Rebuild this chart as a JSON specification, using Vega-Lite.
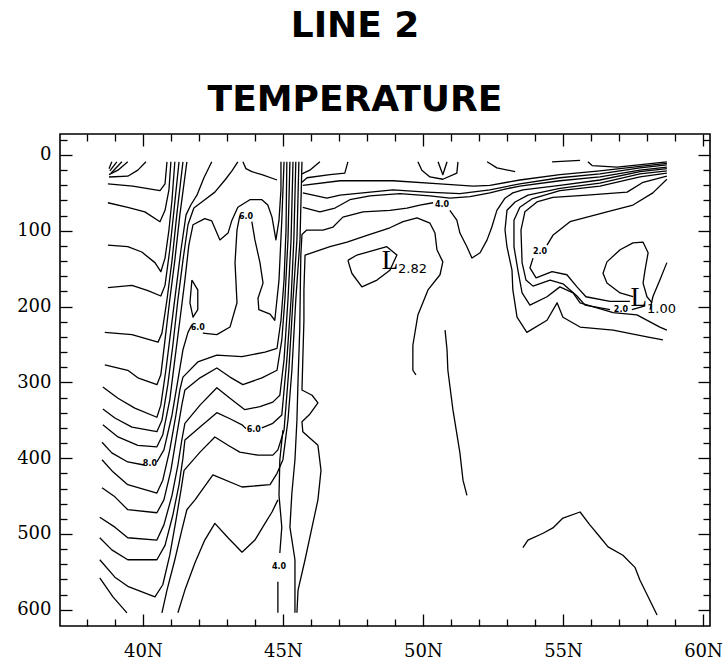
{
"$schema":"https://vega.github.io/schema/vega-lite/v6.json",
"width":650,"height":492,
"autosize":{"type":"none"},
"padding":{"left":60,"top":134,"right":17,"bottom":37},
"background":"white",
"title":{"text":["LINE 2","TEMPERATURE"],"font":"DejaVu Sans","fontWeight":"bold","fontSize":36,"lineHeight":74,"anchor":"middle","frame":"group","dx":-30,"dy":35,"offset":13,"color":"black","baseline":"bottom"},
"config":{"view":{"stroke":"black","strokeWidth":1.6},"axis":{"domain":false,"grid":false,"labelFont":"DejaVu Serif","labelFontSize":18,"labelColor":"black","tickColor":"black","tickWidth":1.3,"title":null,"labelFlush":false}},
"datasets":{
"lines":[
{"id":"C1a","lat":38.89,"depth":9},{"id":"C1a","lat":38.79,"depth":18},
{"id":"C1b","lat":39.07,"depth":9},{"id":"C1b","lat":38.82,"depth":21},
{"id":"C1c","lat":39.25,"depth":9},{"id":"C1c","lat":38.86,"depth":24},
{"id":"C1d","lat":39.46,"depth":9},{"id":"C1d","lat":39.11,"depth":20},{"id":"C1d","lat":38.79,"depth":26},
{"id":"C2","lat":38.79,"depth":29},{"id":"C2","lat":39.46,"depth":28},{"id":"C2","lat":39.82,"depth":20},{"id":"C2","lat":40.11,"depth":9},
{"id":"V1","lat":38.75,"depth":38},{"id":"V1","lat":39.64,"depth":41},{"id":"V1","lat":40.61,"depth":47},{"id":"V1","lat":40.79,"depth":38},{"id":"V1","lat":40.86,"depth":9},
{"id":"V2","lat":38.75,"depth":63},{"id":"V2","lat":39.46,"depth":69},{"id":"V2","lat":40.07,"depth":75},{"id":"V2","lat":40.61,"depth":88},{"id":"V2","lat":40.79,"depth":73},{"id":"V2","lat":40.93,"depth":46},{"id":"V2","lat":41.0,"depth":9},
{"id":"V3","lat":38.75,"depth":119},{"id":"V3","lat":39.46,"depth":121},{"id":"V3","lat":39.96,"depth":128},{"id":"V3","lat":40.43,"depth":142},{"id":"V3","lat":40.64,"depth":154},{"id":"V3","lat":40.79,"depth":136},{"id":"V3","lat":40.93,"depth":99},{"id":"V3","lat":41.04,"depth":59},{"id":"V3","lat":41.14,"depth":9},
{"id":"V4","lat":38.75,"depth":175},{"id":"V4","lat":39.61,"depth":172},{"id":"V4","lat":40.18,"depth":179},{"id":"V4","lat":40.64,"depth":186},{"id":"V4","lat":40.79,"depth":172},{"id":"V4","lat":40.96,"depth":125},{"id":"V4","lat":41.11,"depth":73},{"id":"V4","lat":41.29,"depth":9},
{"id":"V5","lat":38.64,"depth":234},{"id":"V5","lat":39.61,"depth":237},{"id":"V5","lat":40.54,"depth":247},{"id":"V5","lat":40.68,"depth":235},{"id":"V5","lat":40.86,"depth":191},{"id":"V5","lat":41.04,"depth":139},{"id":"V5","lat":41.21,"depth":79},{"id":"V5","lat":41.43,"depth":9},
{"id":"V6","lat":38.64,"depth":277},{"id":"V6","lat":39.46,"depth":284},{"id":"V6","lat":39.82,"depth":294},{"id":"V6","lat":40.5,"depth":303},{"id":"V6","lat":40.64,"depth":290},{"id":"V6","lat":40.79,"depth":244},{"id":"V6","lat":40.96,"depth":191},{"id":"V6","lat":41.14,"depth":139},{"id":"V6","lat":41.32,"depth":79},{"id":"V6","lat":41.57,"depth":9},
{"id":"V7","lat":38.57,"depth":306},{"id":"V7","lat":39.11,"depth":321},{"id":"V7","lat":39.71,"depth":334},{"id":"V7","lat":40.5,"depth":346},{"id":"V7","lat":40.64,"depth":330},{"id":"V7","lat":40.82,"depth":284},{"id":"V7","lat":41.0,"depth":231},{"id":"V7","lat":41.18,"depth":178},{"id":"V7","lat":41.36,"depth":125},{"id":"V7","lat":41.54,"depth":79},{"id":"V7","lat":41.71,"depth":66},{"id":"V7","lat":41.93,"depth":53},{"id":"V7","lat":42.18,"depth":30},{"id":"V7","lat":42.46,"depth":9},
{"id":"V8","lat":38.57,"depth":335},{"id":"V8","lat":39.0,"depth":347},{"id":"V8","lat":39.61,"depth":359},{"id":"V8","lat":40.5,"depth":365},{"id":"V8","lat":40.68,"depth":350},{"id":"V8","lat":40.89,"depth":303},{"id":"V8","lat":41.07,"depth":251},{"id":"V8","lat":41.25,"depth":191},{"id":"V8","lat":41.43,"depth":139},{"id":"V8","lat":41.61,"depth":92},{"id":"V8","lat":41.82,"depth":70},{"id":"V8","lat":42.21,"depth":59},{"id":"V8","lat":42.57,"depth":49},{"id":"V8","lat":42.93,"depth":33},{"id":"V8","lat":43.18,"depth":21},{"id":"V8","lat":43.39,"depth":9},
{"id":"V9","lat":38.57,"depth":356},{"id":"V9","lat":39.11,"depth":372},{"id":"V9","lat":39.82,"depth":383},{"id":"V9","lat":40.5,"depth":385},{"id":"V9","lat":40.71,"depth":369},{"id":"V9","lat":40.96,"depth":323},{"id":"V9","lat":41.14,"depth":270},{"id":"V9","lat":41.32,"depth":218},{"id":"V9","lat":41.5,"depth":165},{"id":"V9","lat":41.64,"depth":119},{"id":"V9","lat":41.79,"depth":92},{"id":"V9","lat":42.21,"depth":84},{"id":"V9","lat":42.46,"depth":87},{"id":"V9","lat":42.75,"depth":112},{"id":"V9","lat":43.04,"depth":103},{"id":"V9","lat":43.18,"depth":86},{"id":"V9","lat":43.39,"depth":69},{"id":"V9","lat":43.82,"depth":59},{"id":"V9","lat":44.25,"depth":59},{"id":"V9","lat":44.46,"depth":66},{"id":"V9","lat":44.61,"depth":82},{"id":"V9","lat":44.75,"depth":112},{"id":"V9","lat":44.86,"depth":86},{"id":"V9","lat":44.93,"depth":46},{"id":"V9","lat":44.93,"depth":9},
{"id":"V10a","lat":38.54,"depth":379},{"id":"V10a","lat":38.89,"depth":393},{"id":"V10a","lat":39.46,"depth":405},{"id":"V10a","lat":40.04,"depth":409},
{"id":"V10b","lat":40.5,"depth":405},{"id":"V10b","lat":40.75,"depth":389},{"id":"V10b","lat":41.04,"depth":343},{"id":"V10b","lat":41.25,"depth":297},{"id":"V10b","lat":41.43,"depth":257},{"id":"V10b","lat":41.61,"depth":234},{"id":"V10b","lat":41.75,"depth":224},
{"id":"V10c","lat":42.14,"depth":235},{"id":"V10c","lat":42.64,"depth":237},{"id":"V10c","lat":43.11,"depth":227},{"id":"V10c","lat":43.36,"depth":195},{"id":"V10c","lat":43.29,"depth":142},{"id":"V10c","lat":43.36,"depth":99},{"id":"V10c","lat":43.46,"depth":80},
{"id":"V10d","lat":43.89,"depth":88},{"id":"V10d","lat":44.0,"depth":112},{"id":"V10d","lat":44.18,"depth":142},{"id":"V10d","lat":44.29,"depth":169},{"id":"V10d","lat":44.11,"depth":189},{"id":"V10d","lat":44.14,"depth":204},{"id":"V10d","lat":44.54,"depth":210},{"id":"V10d","lat":44.71,"depth":218},{"id":"V10d","lat":44.86,"depth":165},{"id":"V10d","lat":44.96,"depth":86},{"id":"V10d","lat":45.04,"depth":9},
{"id":"V11","lat":38.54,"depth":402},{"id":"V11","lat":38.93,"depth":418},{"id":"V11","lat":39.46,"depth":435},{"id":"V11","lat":40.5,"depth":446},{"id":"V11","lat":40.71,"depth":429},{"id":"V11","lat":40.96,"depth":389},{"id":"V11","lat":41.18,"depth":343},{"id":"V11","lat":41.32,"depth":310},{"id":"V11","lat":41.43,"depth":293},{"id":"V11","lat":41.96,"depth":273},{"id":"V11","lat":42.64,"depth":264},{"id":"V11","lat":43.54,"depth":266},{"id":"V11","lat":44.36,"depth":260},{"id":"V11","lat":44.79,"depth":255},{"id":"V11","lat":44.93,"depth":218},{"id":"V11","lat":45.04,"depth":165},{"id":"V11","lat":45.11,"depth":99},{"id":"V11","lat":45.14,"depth":9},
{"id":"V12","lat":38.54,"depth":439},{"id":"V12","lat":39.0,"depth":451},{"id":"V12","lat":39.46,"depth":468},{"id":"V12","lat":40.5,"depth":472},{"id":"V12","lat":40.75,"depth":455},{"id":"V12","lat":41.0,"depth":416},{"id":"V12","lat":41.21,"depth":369},{"id":"V12","lat":41.39,"depth":330},{"id":"V12","lat":41.5,"depth":310},{"id":"V12","lat":42.04,"depth":294},{"id":"V12","lat":42.64,"depth":281},{"id":"V12","lat":43.11,"depth":293},{"id":"V12","lat":43.57,"depth":303},{"id":"V12","lat":44.25,"depth":294},{"id":"V12","lat":44.79,"depth":284},{"id":"V12","lat":44.96,"depth":244},{"id":"V12","lat":45.07,"depth":191},{"id":"V12","lat":45.18,"depth":112},{"id":"V12","lat":45.25,"depth":9},
{"id":"V13","lat":38.46,"depth":478},{"id":"V13","lat":39.0,"depth":491},{"id":"V13","lat":39.46,"depth":505},{"id":"V13","lat":40.5,"depth":508},{"id":"V13","lat":40.75,"depth":488},{"id":"V13","lat":41.04,"depth":449},{"id":"V13","lat":41.25,"depth":409},{"id":"V13","lat":41.39,"depth":376},{"id":"V13","lat":41.5,"depth":354},{"id":"V13","lat":42.04,"depth":330},{"id":"V13","lat":42.64,"depth":307},{"id":"V13","lat":43.11,"depth":321},{"id":"V13","lat":43.64,"depth":336},{"id":"V13","lat":44.18,"depth":332},{"id":"V13","lat":44.64,"depth":326},{"id":"V13","lat":44.89,"depth":317},{"id":"V13","lat":45.04,"depth":270},{"id":"V13","lat":45.18,"depth":191},{"id":"V13","lat":45.29,"depth":112},{"id":"V13","lat":45.36,"depth":9},
{"id":"V14a","lat":38.46,"depth":505},{"id":"V14a","lat":38.89,"depth":521},{"id":"V14a","lat":39.46,"depth":534},{"id":"V14a","lat":40.5,"depth":534},{"id":"V14a","lat":40.79,"depth":515},{"id":"V14a","lat":41.07,"depth":475},{"id":"V14a","lat":41.29,"depth":435},{"id":"V14a","lat":41.43,"depth":400},{"id":"V14a","lat":41.5,"depth":376},{"id":"V14a","lat":42.04,"depth":359},{"id":"V14a","lat":42.64,"depth":340},{"id":"V14a","lat":43.11,"depth":348},{"id":"V14a","lat":43.54,"depth":356},{"id":"V14a","lat":43.68,"depth":361},
{"id":"V14b","lat":44.25,"depth":360},{"id":"V14b","lat":44.64,"depth":354},{"id":"V14b","lat":44.96,"depth":343},{"id":"V14b","lat":45.14,"depth":270},{"id":"V14b","lat":45.29,"depth":191},{"id":"V14b","lat":45.39,"depth":112},{"id":"V14b","lat":45.46,"depth":9},
{"id":"V15","lat":38.46,"depth":534},{"id":"V15","lat":39.0,"depth":557},{"id":"V15","lat":39.46,"depth":569},{"id":"V15","lat":40.43,"depth":583},{"id":"V15","lat":40.71,"depth":567},{"id":"V15","lat":40.96,"depth":528},{"id":"V15","lat":41.18,"depth":482},{"id":"V15","lat":41.36,"depth":442},{"id":"V15","lat":41.47,"depth":416},{"id":"V15","lat":42.04,"depth":392},{"id":"V15","lat":42.57,"depth":372},{"id":"V15","lat":43.04,"depth":383},{"id":"V15","lat":43.46,"depth":392},{"id":"V15","lat":44.11,"depth":396},{"id":"V15","lat":44.64,"depth":396},{"id":"V15","lat":44.82,"depth":389},{"id":"V15","lat":45.04,"depth":363},{"id":"V15","lat":45.21,"depth":284},{"id":"V15","lat":45.36,"depth":191},{"id":"V15","lat":45.5,"depth":112},{"id":"V15","lat":45.57,"depth":9},
{"id":"V16","lat":38.46,"depth":558},{"id":"V16","lat":38.93,"depth":583},{"id":"V16","lat":39.43,"depth":604},
{"id":"B162","lat":40.68,"depth":604},{"id":"B162","lat":40.86,"depth":574},{"id":"B162","lat":41.14,"depth":534},{"id":"B162","lat":41.39,"depth":495},{"id":"B162","lat":41.57,"depth":468},{"id":"B162","lat":41.86,"depth":455},{"id":"B162","lat":42.5,"depth":422},{"id":"B162","lat":43.54,"depth":438},{"id":"B162","lat":44.54,"depth":435},{"id":"B162","lat":44.79,"depth":420},{"id":"B162","lat":45.0,"depth":402},{"id":"B162","lat":45.18,"depth":350},{"id":"B162","lat":45.32,"depth":284},{"id":"B162","lat":45.46,"depth":191},{"id":"B162","lat":45.61,"depth":112},{"id":"B162","lat":45.68,"depth":9},
{"id":"R7","lat":41.25,"depth":604},{"id":"R7","lat":41.5,"depth":574},{"id":"R7","lat":41.86,"depth":538},{"id":"R7","lat":42.21,"depth":508},{"id":"R7","lat":42.57,"depth":486},{"id":"R7","lat":43.04,"depth":505},{"id":"R7","lat":43.54,"depth":524},{"id":"R7","lat":44.0,"depth":508},{"id":"R7","lat":44.36,"depth":486},{"id":"R7","lat":44.61,"depth":471},{"id":"R7","lat":44.82,"depth":455},
{"id":"Oval","lat":41.75,"depth":165},{"id":"Oval","lat":41.96,"depth":178},{"id":"Oval","lat":41.96,"depth":204},{"id":"Oval","lat":41.79,"depth":214},{"id":"Oval","lat":41.68,"depth":195},{"id":"Oval","lat":41.75,"depth":165},
{"id":"L48a","lat":44.82,"depth":604},{"id":"L48a","lat":44.82,"depth":563},
{"id":"L48b","lat":44.89,"depth":525},{"id":"L48b","lat":44.96,"depth":491},{"id":"L48b","lat":44.86,"depth":449},{"id":"L48b","lat":44.89,"depth":402},{"id":"L48b","lat":45.0,"depth":363},
{"id":"H4a","lat":45.43,"depth":604},{"id":"H4a","lat":45.43,"depth":534},{"id":"H4a","lat":45.25,"depth":491},{"id":"H4a","lat":45.32,"depth":446},{"id":"H4a","lat":45.43,"depth":402},{"id":"H4a","lat":45.5,"depth":350},{"id":"H4a","lat":45.54,"depth":297},{"id":"H4a","lat":45.6,"depth":231},{"id":"H4a","lat":45.62,"depth":178},{"id":"H4a","lat":45.64,"depth":132},{"id":"H4a","lat":45.68,"depth":105},{"id":"H4a","lat":45.85,"depth":99},{"id":"H4a","lat":46.43,"depth":99},{"id":"H4a","lat":46.79,"depth":95},{"id":"H4a","lat":47.14,"depth":82},{"id":"H4a","lat":47.86,"depth":75},{"id":"H4a","lat":48.82,"depth":73},{"id":"H4a","lat":49.43,"depth":70},{"id":"H4a","lat":49.89,"depth":66},{"id":"H4a","lat":50.36,"depth":63},
{"id":"H4b","lat":50.96,"depth":73},{"id":"H4b","lat":51.21,"depth":86},{"id":"H4b","lat":51.32,"depth":103},{"id":"H4b","lat":51.57,"depth":121},{"id":"H4b","lat":51.75,"depth":136},{"id":"H4b","lat":52.04,"depth":129},{"id":"H4b","lat":52.29,"depth":112},{"id":"H4b","lat":52.46,"depth":95},{"id":"H4b","lat":52.64,"depth":73},{"id":"H4b","lat":52.93,"depth":57},{"id":"H4b","lat":53.21,"depth":50},{"id":"H4b","lat":53.57,"depth":46},{"id":"H4b","lat":54.89,"depth":40},{"id":"H4b","lat":56.32,"depth":33},{"id":"H4b","lat":57.75,"depth":22},{"id":"H4b","lat":58.71,"depth":18},
{"id":"H5","lat":45.5,"depth":604},{"id":"H5","lat":45.54,"depth":574},{"id":"H5","lat":45.79,"depth":534},{"id":"H5","lat":46.04,"depth":491},{"id":"H5","lat":46.25,"depth":455},{"id":"H5","lat":46.36,"depth":416},{"id":"H5","lat":46.25,"depth":383},{"id":"H5","lat":45.71,"depth":365},{"id":"H5","lat":45.68,"depth":352},{"id":"H5","lat":45.96,"depth":342},{"id":"H5","lat":46.25,"depth":327},{"id":"H5","lat":46.04,"depth":317},{"id":"H5","lat":45.68,"depth":310},{"id":"H5","lat":45.71,"depth":270},{"id":"H5","lat":45.75,"depth":218},{"id":"H5","lat":45.75,"depth":178},{"id":"H5","lat":45.79,"depth":132},{"id":"H5","lat":46.68,"depth":121},{"id":"H5","lat":47.29,"depth":115},{"id":"H5","lat":48.0,"depth":106},{"id":"H5","lat":48.82,"depth":96},{"id":"H5","lat":49.29,"depth":88},{"id":"H5","lat":49.79,"depth":83},{"id":"H5","lat":50.25,"depth":90},{"id":"H5","lat":50.43,"depth":103},{"id":"H5","lat":50.5,"depth":125},{"id":"H5","lat":50.71,"depth":141},{"id":"H5","lat":50.61,"depth":158},{"id":"H5","lat":50.18,"depth":178},{"id":"H5","lat":49.82,"depth":211},{"id":"H5","lat":49.64,"depth":251},{"id":"H5","lat":49.64,"depth":284},{"id":"H5","lat":49.75,"depth":290},
{"id":"H1","lat":45.71,"depth":40},{"id":"H1","lat":47.04,"depth":34},{"id":"H1","lat":48.93,"depth":34},{"id":"H1","lat":50.61,"depth":38},{"id":"H1","lat":51.79,"depth":41},{"id":"H1","lat":52.39,"depth":40},{"id":"H1","lat":53.46,"depth":33},{"id":"H1","lat":54.89,"depth":26},{"id":"H1","lat":56.32,"depth":21},{"id":"H1","lat":57.75,"depth":15},{"id":"H1","lat":58.71,"depth":11},
{"id":"H2","lat":45.71,"depth":50},{"id":"H2","lat":46.57,"depth":57},{"id":"H2","lat":47.04,"depth":53},{"id":"H2","lat":48.93,"depth":46},{"id":"H2","lat":50.14,"depth":49},{"id":"H2","lat":51.32,"depth":51},{"id":"H2","lat":52.39,"depth":46},{"id":"H2","lat":53.46,"depth":38},{"id":"H2","lat":54.89,"depth":30},{"id":"H2","lat":56.32,"depth":25},{"id":"H2","lat":57.75,"depth":17},{"id":"H2","lat":58.71,"depth":13},
{"id":"H3","lat":45.71,"depth":69},{"id":"H3","lat":46.32,"depth":75},{"id":"H3","lat":46.86,"depth":70},{"id":"H3","lat":47.39,"depth":59},{"id":"H3","lat":48.11,"depth":54},{"id":"H3","lat":49.18,"depth":51},{"id":"H3","lat":50.25,"depth":54},{"id":"H3","lat":50.96,"depth":57},{"id":"H3","lat":51.68,"depth":55},{"id":"H3","lat":52.39,"depth":50},{"id":"H3","lat":52.93,"depth":45},{"id":"H3","lat":53.46,"depth":41},{"id":"H3","lat":54.89,"depth":34},{"id":"H3","lat":56.32,"depth":29},{"id":"H3","lat":57.75,"depth":20},{"id":"H3","lat":58.71,"depth":16},
{"id":"U1","lat":58.71,"depth":21},{"id":"U1","lat":57.75,"depth":25},{"id":"U1","lat":56.32,"depth":37},{"id":"U1","lat":54.89,"depth":44},{"id":"U1","lat":53.75,"depth":53},{"id":"U1","lat":53.29,"depth":62},{"id":"U1","lat":53.0,"depth":73},{"id":"U1","lat":52.93,"depth":99},{"id":"U1","lat":53.0,"depth":121},{"id":"U1","lat":53.18,"depth":152},{"id":"U1","lat":53.21,"depth":178},{"id":"U1","lat":53.36,"depth":214},{"id":"U1","lat":53.71,"depth":234},{"id":"U1","lat":54.43,"depth":218},{"id":"U1","lat":54.79,"depth":195},{"id":"U1","lat":55.0,"depth":214},{"id":"U1","lat":55.61,"depth":227},{"id":"U1","lat":56.79,"depth":231},{"id":"U1","lat":58.0,"depth":240},{"id":"U1","lat":58.57,"depth":244},
{"id":"U2","lat":58.71,"depth":24},{"id":"U2","lat":57.75,"depth":29},{"id":"U2","lat":56.32,"depth":41},{"id":"U2","lat":54.89,"depth":47},{"id":"U2","lat":53.89,"depth":58},{"id":"U2","lat":53.46,"depth":69},{"id":"U2","lat":53.25,"depth":86},{"id":"U2","lat":53.25,"depth":121},{"id":"U2","lat":53.39,"depth":152},{"id":"U2","lat":53.54,"depth":182},{"id":"U2","lat":53.82,"depth":198},{"id":"U2","lat":54.43,"depth":187},{"id":"U2","lat":54.89,"depth":174},{"id":"U2","lat":55.36,"depth":182},{"id":"U2","lat":55.61,"depth":195},{"id":"U2","lat":56.79,"depth":208},{"id":"U2","lat":57.64,"depth":211},{"id":"U2","lat":58.46,"depth":227},{"id":"U2","lat":58.71,"depth":231},
{"id":"U3","lat":58.71,"depth":28},{"id":"U3","lat":57.86,"depth":36},{"id":"U3","lat":57.29,"depth":49},{"id":"U3","lat":55.86,"depth":53},{"id":"U3","lat":54.64,"depth":56},{"id":"U3","lat":54.07,"depth":62},{"id":"U3","lat":53.64,"depth":75},{"id":"U3","lat":53.5,"depth":99},{"id":"U3","lat":53.54,"depth":142},{"id":"U3","lat":53.68,"depth":165},{"id":"U3","lat":53.93,"depth":173},{"id":"U3","lat":54.54,"depth":165},{"id":"U3","lat":55.0,"depth":170},{"id":"U3","lat":55.5,"depth":186},{"id":"U3","lat":55.79,"depth":198},{"id":"U3","lat":56.68,"depth":204},
{"id":"U3b","lat":57.46,"depth":204},{"id":"U3b","lat":57.93,"depth":199},
{"id":"U4a","lat":58.71,"depth":32},{"id":"U4a","lat":58.21,"depth":50},{"id":"U4a","lat":57.5,"depth":66},{"id":"U4a","lat":56.57,"depth":75},{"id":"U4a","lat":55.25,"depth":88},{"id":"U4a","lat":54.64,"depth":106},{"id":"U4a","lat":54.43,"depth":119},
{"id":"U4b","lat":53.93,"depth":136},{"id":"U4b","lat":53.82,"depth":149},{"id":"U4b","lat":54.04,"depth":162},{"id":"U4b","lat":54.61,"depth":154},{"id":"U4b","lat":55.14,"depth":158},{"id":"U4b","lat":55.5,"depth":174},{"id":"U4b","lat":55.82,"depth":187},{"id":"U4b","lat":56.68,"depth":193},{"id":"U4b","lat":57.39,"depth":193},
{"id":"Lloop","lat":58.18,"depth":195},{"id":"Lloop","lat":58.0,"depth":187},{"id":"Lloop","lat":57.86,"depth":169},{"id":"Lloop","lat":57.93,"depth":152},{"id":"Lloop","lat":58.04,"depth":129},{"id":"Lloop","lat":57.86,"depth":115},{"id":"Lloop","lat":57.5,"depth":116},{"id":"Lloop","lat":57.04,"depth":125},{"id":"Lloop","lat":56.57,"depth":141},{"id":"Lloop","lat":56.43,"depth":156},{"id":"Lloop","lat":56.57,"depth":169},{"id":"Lloop","lat":57.04,"depth":182},{"id":"Lloop","lat":57.5,"depth":187},
{"id":"Rline","lat":58.71,"depth":142},{"id":"Rline","lat":58.46,"depth":165},{"id":"Rline","lat":58.21,"depth":187},{"id":"Rline","lat":58.11,"depth":204},
{"id":"BR","lat":53.57,"depth":518},{"id":"BR","lat":53.75,"depth":508},{"id":"BR","lat":54.29,"depth":499},{"id":"BR","lat":54.64,"depth":492},{"id":"BR","lat":55.0,"depth":479},{"id":"BR","lat":55.61,"depth":471},{"id":"BR","lat":55.96,"depth":488},{"id":"BR","lat":56.32,"depth":504},{"id":"BR","lat":56.61,"depth":517},{"id":"BR","lat":57.14,"depth":528},{"id":"BR","lat":57.57,"depth":544},{"id":"BR","lat":57.75,"depth":561},{"id":"BR","lat":58.36,"depth":607},
{"id":"Loop282","lat":47.32,"depth":139},{"id":"Loop282","lat":47.64,"depth":132},{"id":"Loop282","lat":48.71,"depth":121},{"id":"Loop282","lat":49.07,"depth":132},{"id":"Loop282","lat":48.82,"depth":152},{"id":"Loop282","lat":48.36,"depth":165},{"id":"Loop282","lat":47.82,"depth":174},{"id":"Loop282","lat":47.46,"depth":156},{"id":"Loop282","lat":47.32,"depth":139},
{"id":"TopU","lat":49.82,"depth":9},{"id":"TopU","lat":49.96,"depth":20},{"id":"TopU","lat":50.25,"depth":29},{"id":"TopU","lat":50.71,"depth":32},{"id":"TopU","lat":51.21,"depth":24},{"id":"TopU","lat":51.25,"depth":9},
{"id":"TopV","lat":50.54,"depth":9},{"id":"TopV","lat":50.71,"depth":26},{"id":"TopV","lat":50.86,"depth":9},
{"id":"TopA","lat":47.32,"depth":9},{"id":"TopA","lat":47.21,"depth":24},{"id":"TopA","lat":46.68,"depth":26},{"id":"TopA","lat":45.86,"depth":30},{"id":"TopA","lat":45.68,"depth":36},
{"id":"TopB","lat":46.32,"depth":9},{"id":"TopB","lat":45.96,"depth":20},{"id":"TopB","lat":45.68,"depth":25},
{"id":"M1U","lat":43.57,"depth":9},{"id":"M1U","lat":43.68,"depth":18},{"id":"M1U","lat":43.89,"depth":22},{"id":"M1U","lat":44.25,"depth":26},{"id":"M1U","lat":44.79,"depth":33},
{"id":"TRa","lat":54.61,"depth":9},{"id":"TRa","lat":55.11,"depth":8},{"id":"TRa","lat":55.61,"depth":7},
{"id":"TRb","lat":55.89,"depth":9},{"id":"TRb","lat":56.04,"depth":14},{"id":"TRb","lat":56.93,"depth":16},{"id":"TRb","lat":58.21,"depth":11},{"id":"TRb","lat":58.71,"depth":9},
{"id":"TRc","lat":52.29,"depth":9},{"id":"TRc","lat":52.64,"depth":17},{"id":"TRc","lat":53.29,"depth":22},
{"id":"Mid2","lat":50.79,"depth":231},{"id":"Mid2","lat":50.86,"depth":257},{"id":"Mid2","lat":50.89,"depth":284},{"id":"Mid2","lat":51.07,"depth":336},{"id":"Mid2","lat":51.32,"depth":393},{"id":"Mid2","lat":51.43,"depth":429},{"id":"Mid2","lat":51.57,"depth":449}
],
"labels":[
{"kind":"L","t":"L","lat":48.82,"depth":140},
{"kind":"L","t":"L","lat":57.71,"depth":189},
{"kind":"v","t":"2.82","lat":49.11,"depth":156},
{"kind":"v","t":"1.00","lat":58.0,"depth":208},
{"kind":"c","t":"8.0","lat":40.25,"depth":408},
{"kind":"c","t":"6.0","lat":41.96,"depth":228},
{"kind":"c","t":"6.0","lat":43.68,"depth":82},
{"kind":"c","t":"6.0","lat":43.96,"depth":363},
{"kind":"c","t":"4.0","lat":50.68,"depth":66},
{"kind":"c","t":"4.0","lat":44.86,"depth":544},
{"kind":"c","t":"2.0","lat":54.18,"depth":128},
{"kind":"c","t":"2.0","lat":57.07,"depth":204}
]},
"resolve":{"axis":{"x":"independent","y":"independent"}},
"layer":[
{"data":{"name":"lines"},
 "mark":{"type":"line","stroke":"black","strokeWidth":1.3,"strokeJoin":"round"},
 "encoding":{
  "x":{"field":"lat","type":"quantitative","scale":{"domain":[37.04,60.25],"nice":false,"zero":false},
       "axis":{"orient":"bottom","values":[40,45,50,55,60],"tickSize":-12,"labelExpr":"datum.value + 'N'","labelPadding":28}},
  "y":{"field":"depth","type":"quantitative","scale":{"domain":[-27.7,621.4],"reverse":true,"nice":false,"zero":false},
       "axis":{"orient":"left","values":[0,100,200,300,400,500,600],"tickSize":-12,"labelPadding":21}},
  "detail":{"field":"id"},
  "order":{"value":null}}},
{"data":{"name":"labels"},
 "mark":{"type":"point","opacity":0},
 "encoding":{
  "x":{"field":"lat","type":"quantitative","scale":{"domain":[37.04,60.25],"nice":false,"zero":false},
       "axis":{"orient":"bottom","values":[38,39,41,42,43,44,46,47,48,49,51,52,53,54,56,57,58,59],"tickSize":-7,"labels":false}},
  "y":{"field":"depth","type":"quantitative","scale":{"domain":[-27.7,621.4],"reverse":true,"nice":false,"zero":false},
       "axis":{"orient":"left","values":[-20,20,40,60,80,120,140,160,180,220,240,260,280,320,340,360,380,420,440,460,480,520,540,560,580],"tickSize":-7,"labels":false}}}},
{"data":{"name":"labels"},
 "mark":{"type":"point","opacity":0},
 "encoding":{
  "x":{"field":"lat","type":"quantitative","scale":{"domain":[37.04,60.25],"nice":false,"zero":false},
       "axis":{"orient":"top","values":[40,45,50,55,60],"tickSize":-12,"labels":false}},
  "y":{"field":"depth","type":"quantitative","scale":{"domain":[-27.7,621.4],"reverse":true,"nice":false,"zero":false},
       "axis":{"orient":"right","values":[0,100,200,300,400,500,600],"tickSize":-12,"labels":false}}}},
{"data":{"name":"labels"},
 "mark":{"type":"point","opacity":0},
 "encoding":{
  "x":{"field":"lat","type":"quantitative","scale":{"domain":[37.04,60.25],"nice":false,"zero":false},
       "axis":{"orient":"top","values":[38,39,41,42,43,44,46,47,48,49,51,52,53,54,56,57,58,59],"tickSize":-7,"labels":false}},
  "y":{"field":"depth","type":"quantitative","scale":{"domain":[-27.7,621.4],"reverse":true,"nice":false,"zero":false},
       "axis":{"orient":"right","values":[-20,20,40,60,80,120,140,160,180,220,240,260,280,320,340,360,380,420,440,460,480,520,540,560,580],"tickSize":-7,"labels":false}}}},
{"data":{"name":"labels"},
 "transform":[{"filter":"datum.kind == 'L'"}],
 "mark":{"type":"text","font":"Liberation Serif","fontSize":27,"align":"center","baseline":"middle","color":"black"},
 "encoding":{
  "x":{"field":"lat","type":"quantitative","axis":null},
  "y":{"field":"depth","type":"quantitative","axis":null},
  "text":{"field":"t"}}},
{"data":{"name":"labels"},
 "transform":[{"filter":"datum.kind == 'v'"}],
 "mark":{"type":"text","font":"DejaVu Sans","fontSize":13,"align":"left","baseline":"alphabetic","color":"black"},
 "encoding":{
  "x":{"field":"lat","type":"quantitative","axis":null},
  "y":{"field":"depth","type":"quantitative","axis":null},
  "text":{"field":"t"}}},
{"data":{"name":"labels"},
 "transform":[{"filter":"datum.kind == 'c'"}],
 "mark":{"type":"text","font":"DejaVu Sans","fontSize":8,"fontWeight":"bold","align":"center","baseline":"middle","color":"black"},
 "encoding":{
  "x":{"field":"lat","type":"quantitative","axis":null},
  "y":{"field":"depth","type":"quantitative","axis":null},
  "text":{"field":"t"}}}
]
}
